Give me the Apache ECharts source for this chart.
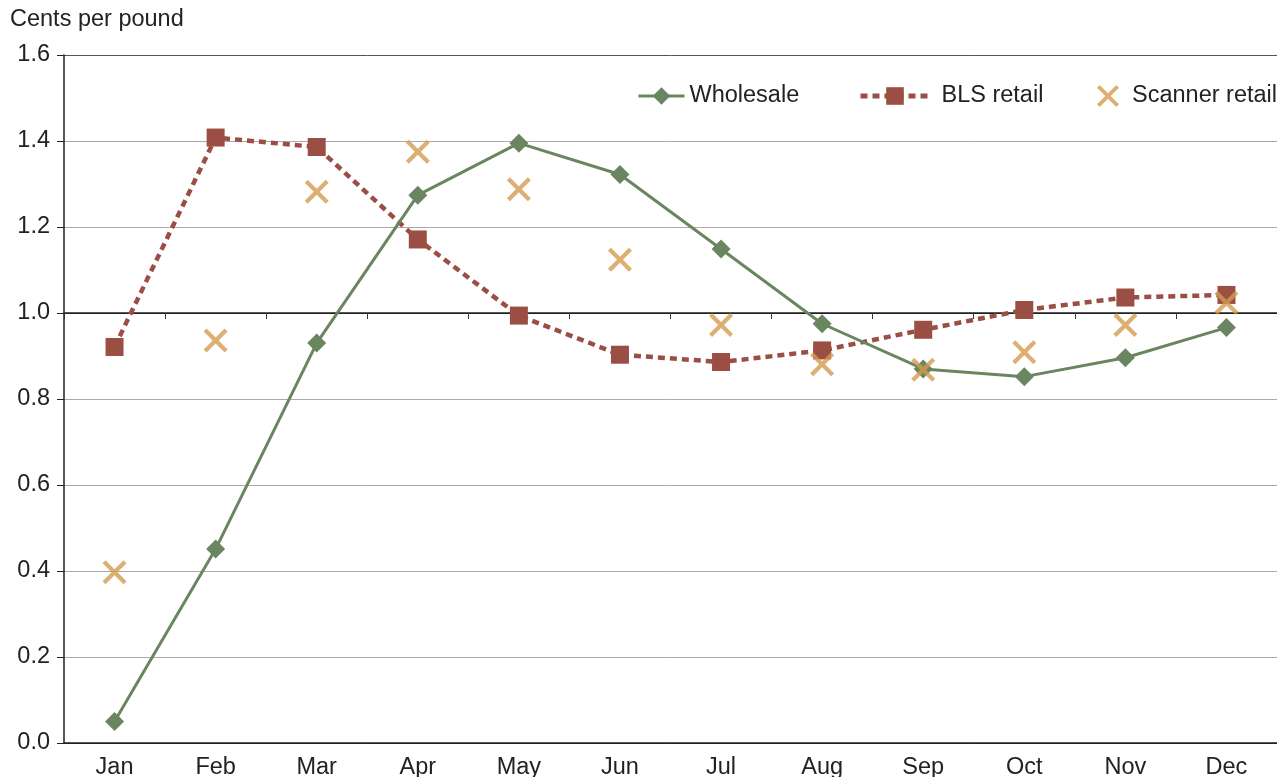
<!DOCTYPE html>
<html>
<head>
<meta charset="utf-8">
<script src="https://cdn.jsdelivr.net/npm/echarts@6/dist/echarts.min.js"></script>
<style>
  html, body { margin: 0; padding: 0; background: #fff; }
  #chart { width: 1277px; height: 777px; }
</style>
</head>
<body>
<div id="chart"></div>
<script>
const months = ["Jan", "Feb", "Mar", "Apr", "May", "Jun", "Jul", "Aug", "Sep", "Oct", "Nov", "Dec"];
const wholesale = [0.05, 0.451, 0.93, 1.274, 1.395, 1.322, 1.149, 0.975, 0.870, 0.852, 0.896, 0.966];
const blsRetail = [0.921, 1.408, 1.386, 1.171, 0.994, 0.903, 0.886, 0.913, 0.961, 1.007, 1.036, 1.042];
const scannerRetail = [0.397, 0.936, 1.282, 1.375, 1.288, 1.124, 0.972, 0.881, 0.868, 0.909, 0.972, 1.024];

const font = "'Liberation Sans', Arial, sans-serif";
const xMark = "path://M0,2.5L2.5,0L10,7.5L17.5,0L20,2.5L12.5,10L20,17.5L17.5,20L10,12.5L2.5,20L0,17.5L7.5,10Z";
const txt = "#222";

const chart = echarts.init(document.querySelector("#chart"));

// one legend per item so each icon sits where it does in the original
const legendAt = (name, left, w, pad) => ({
  left: left, top: 79,
  itemWidth: w, itemHeight: 22,
  lineStyle: { width: name === "BLS retail" ? 5 : 3 },
  textStyle: { fontSize: 23.5, color: txt, fontFamily: font, padding: [0, 0, 0, pad] },
  data: [name]
});

const getOptionChart = () => {
  return {
    animation: false,
    textStyle: { fontFamily: font },
    graphic: [{
      type: "text", left: 10, top: 8,
      style: { text: "Cents per pound", font: "23.5px " + font, fill: txt }
    }],
    legend: [
      legendAt("Wholesale", 632, 46, 0),
      legendAt("BLS retail", 853, 69, 7),
      legendAt("Scanner retail", 1092, 24, 7)
    ],
    grid: { left: 64, right: 0, top: 55, bottom: 34, containLabel: false, outerBoundsMode: "none" },
    xAxis: [{
      type: "category",
      data: months,
      boundaryGap: true,
      axisLine: { lineStyle: { color: txt, width: 1.5 } },
      axisTick: { show: false },
      axisLabel: { fontSize: 23.5, color: txt, margin: 13, fontFamily: font }
    }, {
      type: "category",
      data: months,
      position: "bottom",
      boundaryGap: true,
      axisLine: { onZero: true, onZeroAxisIndex: 1, lineStyle: { color: txt, width: 1.5 } },
      axisTick: { show: true, length: 6, lineStyle: { color: "#333" } },
      axisLabel: { show: false }
    }],
    yAxis: [{
      type: "value",
      min: 0, max: 1.6, interval: 0.2,
      axisLine: { show: true, lineStyle: { color: txt, width: 1.5 } },
      axisTick: { show: true, length: 7, lineStyle: { color: txt } },
      axisLabel: { fontSize: 23.5, color: txt, margin: 14, fontFamily: font,
                   formatter: (v) => v.toFixed(1) },
      splitLine: { lineStyle: { color: ["#222", "#aaa", "#aaa", "#aaa", "#aaa", "#222", "#aaa", "#aaa", "#555"], width: 1 } }
    }, {
      type: "value",
      min: -1, max: 0.6,
      show: false,
      splitLine: { show: false }
    }],
    series: [
      {
        name: "Wholesale", type: "line",
        data: wholesale,
        symbol: "diamond", symbolSize: 19,
        itemStyle: { color: "#6a8660" },
        lineStyle: { color: "#6a8660", width: 3 },
        z: 3
      },
      {
        name: "BLS retail", type: "line",
        data: blsRetail,
        symbol: "rect", symbolSize: 18,
        itemStyle: { color: "#9a4e44" },
        lineStyle: { color: "#9a4e44", width: 4.5, type: [7, 5] },
        z: 2
      },
      {
        name: "Scanner retail", type: "scatter",
        data: scannerRetail,
        symbol: xMark, symbolSize: 24,
        itemStyle: { color: "#d39b50" },
        z: 4
      }
    ]
  };
};

chart.setOption(getOptionChart());
</script>
</body>
</html>
